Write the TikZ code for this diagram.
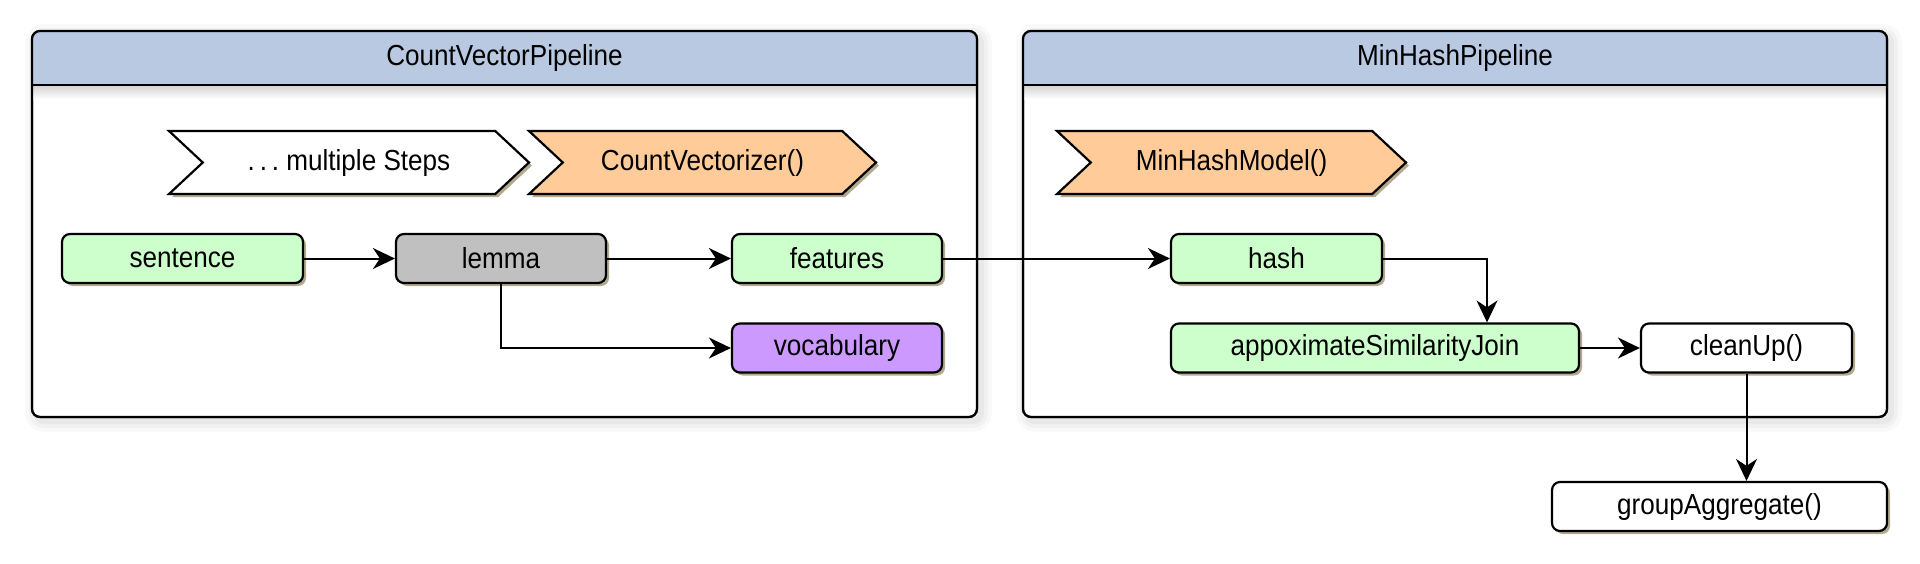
\documentclass[tikz,border=0pt]{standalone}
\usepackage{fontspec}
\setmainfont{Liberation Sans}[FakeStretch=0.9]
\usetikzlibrary{arrows.meta,shadows,shapes.symbols}

\definecolor{headblue}{HTML}{B8C9E1}
\definecolor{colgreen}{HTML}{CCFFCC}
\definecolor{colgray}{HTML}{C0C0C0}
\definecolor{colpurple}{HTML}{CC99FF}
\definecolor{colorange}{HTML}{FFCC99}
\definecolor{shadowtan}{HTML}{B3A98F}

\begin{document}
\begin{tikzpicture}[x=0.5pt, y=-0.5pt,
    every node/.style={font=\fontsize{14.5}{16}\selectfont},
    frame/.style={draw, line width=1pt, rounded corners=4pt,
        general shadow={shadow xshift=2pt, shadow yshift=-2pt, draw=black, line width=11pt, draw opacity=0.025},
        general shadow={shadow xshift=2pt, shadow yshift=-2pt, draw=black, line width=7pt, draw opacity=0.03},
        general shadow={shadow xshift=2pt, shadow yshift=-2pt, draw=black, line width=3pt, draw opacity=0.04}},
    item/.style={draw, line width=1.1pt, rounded corners=4pt, minimum height=24.5pt,
        drop shadow={shadow xshift=1.5pt, shadow yshift=-1.5pt, fill=shadowtan, opacity=1}},
    stage/.style={signal, signal from=west, signal to=east, signal pointer angle=86,
        draw, line width=1.1pt, minimum height=31.5pt,
        drop shadow={shadow xshift=1.5pt, shadow yshift=-1.5pt, fill=shadowtan, opacity=1}},
    flow/.style={-{Stealth[length=11pt, width=10.5pt, inset=3.5pt]}, line width=1pt}]

\useasboundingbox (0,0) rectangle (1920,563);

% CountVectorPipeline frame
\draw[frame, fill=white] (32,31) rectangle (977,417);
\begin{scope}
    \clip[rounded corners=4pt] (32,31) rectangle (977,417);
    \fill[headblue] (32,31) rectangle (977,85);
    \shade[top color=black!18, bottom color=white] (32,85) rectangle (977,99);
\end{scope}
\draw[line width=1.1pt, rounded corners=4pt] (32,31) rectangle (977,417);
\draw[line width=1.1pt] (32,85) -- (977,85);
\node (cvtitle) at (504.5,58) {CountVectorPipeline};

% MinHashPipeline frame
\draw[frame, fill=white] (1023,31) rectangle (1887,417);
\begin{scope}
    \clip[rounded corners=4pt] (1023,31) rectangle (1887,417);
    \fill[headblue] (1023,31) rectangle (1887,85);
    \shade[top color=black!18, bottom color=white] (1023,85) rectangle (1887,99);
\end{scope}
\draw[line width=1.1pt, rounded corners=4pt] (1023,31) rectangle (1887,417);
\draw[line width=1.1pt] (1023,85) -- (1887,85);
\node (mhtitle) at (1455,58) {MinHashPipeline};

% stages
\node[stage, fill=white, minimum width=180pt] (steps) at (349,162.5) {.\,.\,.\ multiple Steps};
\node[stage, fill=colorange, minimum width=173.5pt] (cvstage) at (702.5,162.5) {CountVectorizer()};
\node[stage, fill=colorange, minimum width=174.5pt] (mhstage) at (1231.5,162.5) {MinHashModel()};

% columns
\node[item, fill=colgreen, minimum width=120.5pt] (sentence) at (182.5,258.5) {sentence};
\node[item, fill=colgray, minimum width=105pt] (lemma) at (501,258.5) {lemma};
\node[item, fill=colgreen, minimum width=105pt] (features) at (837,258.5) {features};
\node[item, fill=colpurple, minimum width=105pt] (vocabulary) at (837,348) {vocabulary};
\node[item, fill=colgreen, minimum width=105.5pt] (hash) at (1276.5,258.5) {hash};
\node[item, fill=colgreen, minimum width=204pt] (appox) at (1375,348) {appoximateSimilarityJoin};
\node[item, fill=white, minimum width=105.5pt] (cleanup) at (1746.5,348) {cleanUp()};
\node[item, fill=white, minimum width=167.5pt] (groupagg) at (1719.5,506.5) {groupAggregate()};

\draw[flow] (sentence) -- (lemma);
\draw[flow] (lemma) -- (features);
\draw[flow] (lemma.south) |- (vocabulary.west);
\draw[flow] (features) -- (hash);
\draw[flow] (hash.east) -| ([xshift=56pt]appox.north);
\draw[flow] (appox) -- (cleanup);
\draw[flow] (cleanup.south) -- (cleanup.south |- groupagg.north);

\end{tikzpicture}
\end{document}
